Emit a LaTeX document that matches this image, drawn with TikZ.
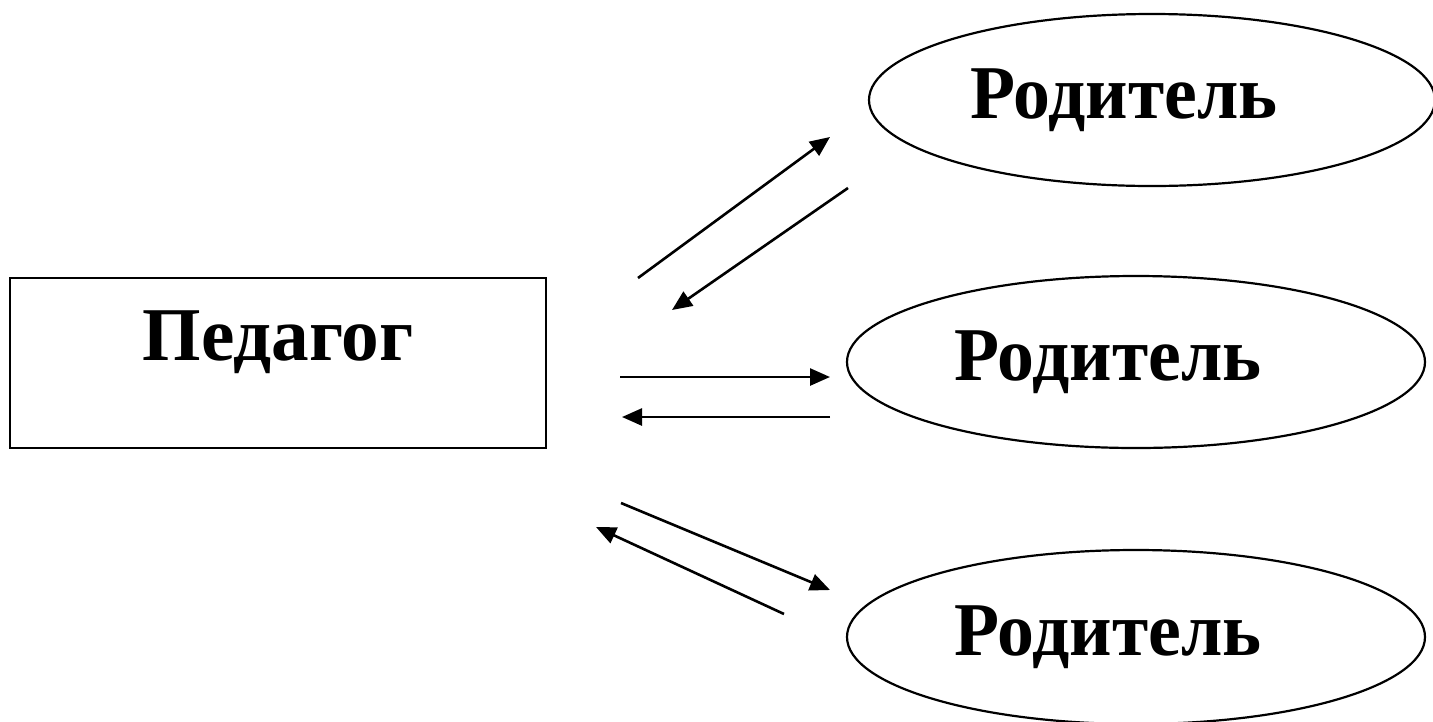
\documentclass[tikz,border=0pt]{standalone}
\usepackage{fontspec}
\setmainfont{Liberation Serif}
\usetikzlibrary{shapes.geometric,arrows.meta}

\begin{document}
\begin{tikzpicture}[x=1pt,y=-1pt,
    every node/.style={font=\fontsize{76}{90}\bfseries\selectfont},
    teacherbox/.style={draw,line width=1.6pt,rectangle,inner sep=0pt,
        minimum width=536pt,text height=82pt,text depth=88pt},
    parentoval/.style={draw,line width=2.2pt,ellipse,inner sep=0pt,
        minimum width=578pt,minimum height=172pt},
    link/.style={line width=2.6pt,-{Triangle[length=20pt,width=17pt]}}]
    \useasboundingbox (0,0) rectangle (1433,721);

    % Teacher and parents
    \node[teacherbox] (ped) at (278,363) {\scalebox{0.99}[1]{Педагог}};
    \node[parentoval,minimum width=566pt] (par1) at (1152,100)
        {\scalebox{0.97}[1]{Родитель}\kern56pt};
    \node[parentoval] (par2) at (1136,362)
        {\scalebox{0.97}[1]{Родитель}\kern56pt};
    \node[parentoval,minimum height=174pt] (par3) at (1136,637)
        {\scalebox{0.97}[1]{Родитель}\kern56pt};

    % Arrow ends
    \coordinate (a1) at (638,278); \coordinate (b1) at (830,137);
    \coordinate (a2) at (848,188); \coordinate (b2) at (672,310);
    \coordinate (a3) at (620,377); \coordinate (b3) at (830,377);
    \coordinate (a4) at (830,417); \coordinate (b4) at (622,417);
    \coordinate (a5) at (621,503); \coordinate (b5) at (830,590);
    \coordinate (a6) at (784,614); \coordinate (b6) at (596,527);

    % Arrows
    \draw[link] (a1) -- (b1);
    \draw[link] (a2) -- (b2);
    \draw[link] (a3) -- (b3);
    \draw[link] (a4) -- (b4);
    \draw[link] (a5) -- (b5);
    \draw[link] (a6) -- (b6);
\end{tikzpicture}
\end{document}
